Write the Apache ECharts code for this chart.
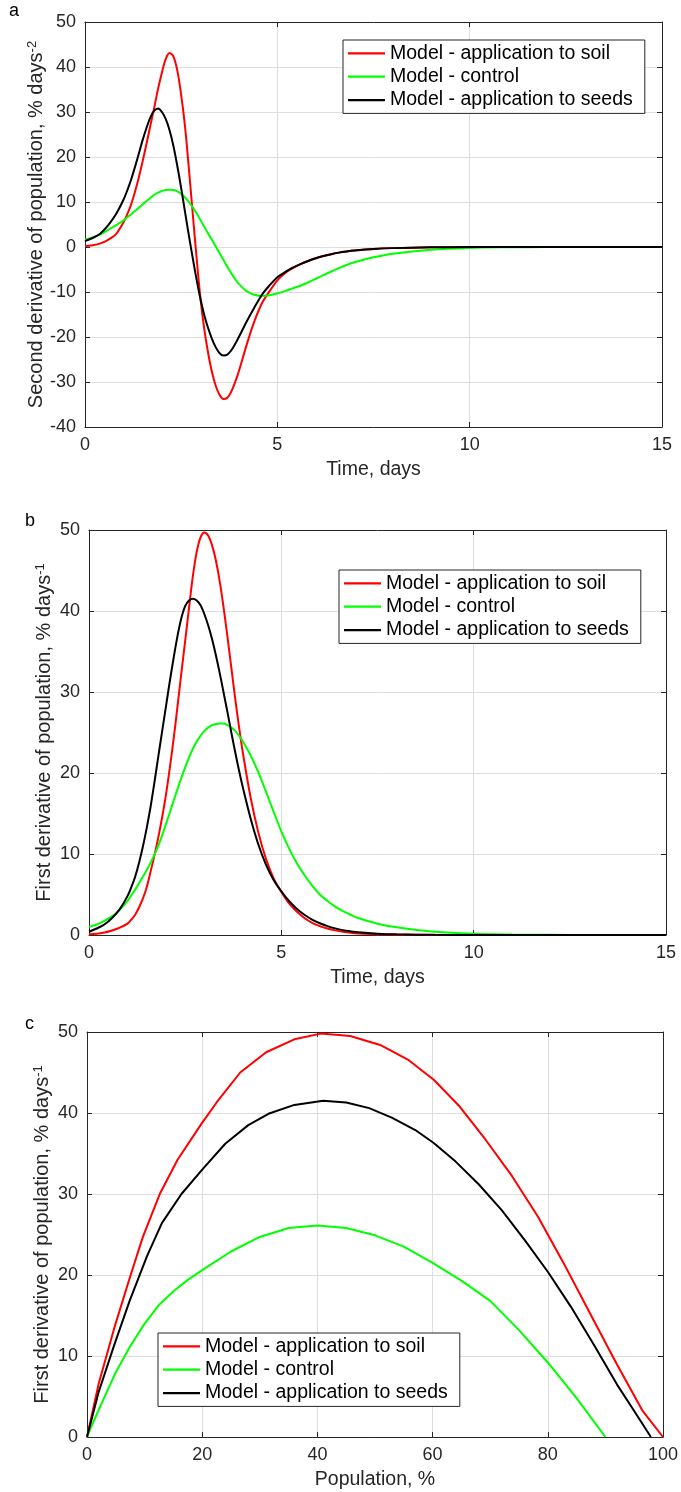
<!DOCTYPE html>
<html><head><meta charset="utf-8">
<script src="https://cdn.jsdelivr.net/npm/echarts@6/dist/echarts.min.js"></script>
<style>html,body{margin:0;padding:0;background:#fff}#c{width:681px;height:1492px}</style>
</head><body><div id="c"></div>
<script>
// ---------- DATA ----------
const seriesNames = ['Model - application to soil', 'Model - control', 'Model - application to seeds'];
const T = [0,0.2,0.4,0.6,0.8,
  1.0,1.1,1.2,1.3,1.4,1.5,1.6,1.7,1.8,1.9,
  2.0,2.1,2.2,2.3,2.4,2.5,2.6,2.7,2.8,2.9,
  3.0,3.1,3.2,3.3,3.4,3.5,3.6,3.7,3.8,3.9,
  4.0,4.2,4.4,4.6,4.8,5.0,
  5.2,5.4,5.6,5.8,6.0,6.2,6.4,6.6,6.8,7.0,
  7.5,8,9,10,11,12,13,14,15];
// panel a: second derivative of population, % days^-2
const secSoil = [0.2,0.4,0.8,1.6,2.8,
  5.5,7.3,9.5,12.3,15.5,19.1,23.0,27.0,31.0,35.2,
  38.8,41.8,43.1,42.3,39.2,33.8,26.8,17.5,7.5,-2.3,
  -11.3,-18.2,-23.5,-27.8,-30.9,-32.9,-33.8,-33.5,-32.2,-30.1,
  -27.6,-21.8,-16.6,-12.5,-9.8,-7.4,
  -5.8,-4.7,-3.8,-3.1,-2.5,-2.0,-1.6,-1.25,-1.0,-0.8,
  -0.45,-0.25,-0.07,-0.02,0,0,0,0,0];
const secControl = [1.6,2.1,2.8,3.8,4.8,
  5.9,6.6,7.3,8.0,8.7,9.5,10.2,10.9,11.6,12.1,
  12.45,12.65,12.7,12.65,12.35,11.8,11.0,10.0,8.8,7.5,
  6.0,4.5,3.0,1.6,0.1,-1.4,-2.9,-4.4,-5.8,-7.1,
  -8.2,-9.8,-10.6,-10.85,-10.7,-10.3,
  -9.8,-9.2,-8.6,-7.85,-7.05,-6.25,-5.45,-4.7,-4.0,-3.4,
  -2.3,-1.5,-0.6,-0.2,-0.07,-0.02,0,0,0];
const secSeeds = [1.3,2.0,3.0,4.8,7.2,
  10.5,12.6,15.0,17.8,20.8,23.8,26.5,28.8,30.3,30.8,
  30.0,28.4,25.9,22.4,18.0,13.1,7.8,2.6,-2.4,-7.2,
  -11.5,-15.1,-18.0,-20.4,-22.3,-23.6,-24.1,-23.9,-23.0,-21.6,
  -20.0,-16.6,-13.5,-10.6,-8.5,-6.7,
  -5.6,-4.6,-3.8,-3.1,-2.5,-2.0,-1.6,-1.25,-1.0,-0.8,
  -0.45,-0.25,-0.08,-0.02,0,0,0,0,0];
// panel b: first derivative of population vs time, % days^-1
const firSoil = [0.1,0.15,0.3,0.55,0.9,
  1.4,1.9,2.5,3.4,4.5,5.9,7.8,9.8,12.0,14.5,
  17.3,20.6,24.2,28.2,32.3,36.3,40.4,44.3,47.3,49.1,
  49.7,49.3,48.1,46.2,43.6,40.4,36.8,33.0,29.2,25.7,
  22.5,17.0,12.7,9.4,7.0,5.3,
  3.9,2.9,2.1,1.5,1.1,0.8,0.57,0.4,0.28,0.2,
  0.08,0.04,0.01,0,0,0,0,0,0];
const firControl = [1.0,1.3,1.75,2.3,3.1,
  4.2,4.9,5.6,6.4,7.2,8.0,8.9,9.9,11.0,12.3,
  13.7,15.1,16.6,18.0,19.4,20.7,21.9,23.0,23.9,24.6,
  25.2,25.6,25.9,26.05,26.1,26.1,25.9,25.6,25.2,24.6,
  23.9,22.2,20.1,17.7,15.2,12.8,
  10.7,8.9,7.4,6.1,5.0,4.2,3.5,2.95,2.5,2.1,
  1.4,0.95,0.4,0.15,0.06,0.02,0,0,0];
const firSeeds = [0.4,0.8,1.3,2.1,3.2,
  4.8,5.9,7.2,8.9,10.9,13.2,15.8,18.8,22.0,25.1,
  28.2,31.3,34.2,36.9,39.1,40.6,41.3,41.5,41.3,40.7,
  39.6,38.2,36.5,34.5,32.3,29.9,27.5,25.0,22.6,20.3,
  18.2,14.4,11.2,8.7,6.8,5.4,
  4.2,3.25,2.5,1.9,1.45,1.1,0.82,0.6,0.45,0.33,
  0.16,0.08,0.02,0,0,0,0,0,0];
// panel c: first derivative vs population
const popSoilP = [0,2,4.75,7.4,9.7,12.7,15.7,19.8,22.5,26.6,31.1,36,40.6,45.7,50.9,55.7,60.2,64.7,69.2,73.8,78.3,82.8,87.3,91.9,96.4,100];
const popSoilV = [0,6.5,13.5,19.6,24.7,30.1,34.2,38.6,41.3,45.0,47.5,49.1,49.8,49.5,48.4,46.6,44.1,40.8,36.7,32.2,27.2,21.4,15.3,9.1,3.3,0];
const popControlP = [0,1,2.5,5,7.5,10,12.5,15,17.5,20,25,30,35,40,45,50,55,60,65,70,75,80,85,90];
const popControlV = [0,1.7,4.1,8.0,11.2,14.0,16.3,18.0,19.4,20.6,22.9,24.7,25.8,26.1,25.8,24.9,23.5,21.5,19.3,16.8,13.2,9.2,4.8,0];
const popSeedsP = [0,2,4.75,7.4,10.4,13,16.4,20,24,28,31.5,36,41,45,49,53,57,60.2,64,68,72,76,80,84,88,92,95,97.9];
const popSeedsV = [0,5.5,11.4,16.8,22.3,26.4,30.0,33.0,36.2,38.5,39.9,41.0,41.5,41.3,40.6,39.4,37.9,36.3,34.0,31.2,28.0,24.3,20.4,16.1,11.4,6.5,3.2,0];
const timeTicks = [0, 15, 5];     // min, max, interval
const popTicks = [0, 100, 20];

// ---------- STYLE / LAYOUT ----------
const FONT = '"Liberation Sans", Arial, Helvetica, sans-serif';
const AX = '#262626';
const GRIDC = '#dedede';
const colors = ['#ff0000', '#00ff00', '#000000'];
const grids = [
  {left: 85, top: 22, width: 577, height: 405},
  {left: 89, top: 530, width: 577, height: 405},
  {left: 87, top: 1032, width: 577, height: 405}
];
const zip = (xs, ys) => xs.map((x, i) => [x, ys[i]]);

function xPair(gi, rng, name) {
  const base = {type: 'value', gridIndex: gi, min: rng[0], max: rng[1], interval: rng[2]};
  return [
    Object.assign({}, base, {
      position: 'bottom',
      axisLine: {show: true, onZero: false, lineStyle: {color: AX, width: 1}},
      axisTick: {show: true, inside: true, length: 5, lineStyle: {color: AX}},
      axisLabel: {color: AX, fontSize: 18, fontFamily: FONT, margin: 9},
      splitLine: {show: true, lineStyle: {color: GRIDC, width: 1}},
      name: name, nameLocation: 'middle', nameGap: 33, nameMoveOverlap: false,
      nameTextStyle: {color: AX, fontSize: 19.5, fontFamily: FONT, lineHeight: 20}
    }),
    Object.assign({}, base, {
      position: 'top',
      axisLine: {show: true, onZero: false, lineStyle: {color: AX, width: 1}},
      axisTick: {show: true, inside: true, length: 5, lineStyle: {color: AX}},
      axisLabel: {show: false}, splitLine: {show: false}
    })
  ];
}
function yPair(gi, min, max, name, gap) {
  const base = {type: 'value', gridIndex: gi, min: min, max: max, interval: 10};
  return [
    Object.assign({}, base, {
      position: 'left',
      axisLine: {show: true, onZero: false, lineStyle: {color: AX, width: 1}},
      axisTick: {show: true, inside: true, length: 5, lineStyle: {color: AX}},
      axisLabel: {color: AX, fontSize: 18, fontFamily: FONT, margin: 9},
      splitLine: {show: true, lineStyle: {color: GRIDC, width: 1}},
      name: name, nameLocation: 'middle', nameGap: gap, nameRotate: 90, nameMoveOverlap: false,
      nameTextStyle: {color: AX, fontSize: 20, fontFamily: FONT, lineHeight: 21,
        rich: {sup: {fontSize: 13, fontFamily: FONT, color: AX, lineHeight: 12, verticalAlign: 'top'}}}
    }),
    Object.assign({}, base, {
      position: 'right',
      axisLine: {show: true, onZero: false, lineStyle: {color: AX, width: 1}},
      axisTick: {show: true, inside: true, length: 5, lineStyle: {color: AX}},
      axisLabel: {show: false}, splitLine: {show: false}
    })
  ];
}
function legend(left, top) {
  return {
    data: seriesNames, orient: 'vertical', left: left, top: top,
    icon: 'rect', itemWidth: 37, itemHeight: 2.2, itemGap: 0,
    padding: [1.6, 12, 1.6, 5],
    backgroundColor: '#fff', borderColor: AX, borderWidth: 1, borderRadius: 0,
    selectedMode: false,
    textStyle: {color: '#000', fontSize: 19.5, fontFamily: FONT, lineHeight: 23.4}
  };
}
function line(i, xi, yi, data, smooth) {
  return {type: 'line', name: seriesNames[i], xAxisIndex: xi, yAxisIndex: yi, data: data,
    showSymbol: false, symbol: 'none', smooth: smooth, color: colors[i],
    lineStyle: {color: colors[i], width: 2}, itemStyle: {color: colors[i]}};
}

const option = {
  animation: false,
  backgroundColor: '#fff',
  grid: grids,
  xAxis: [].concat(xPair(0, timeTicks, 'Time, days'), xPair(1, timeTicks, 'Time, days'), xPair(2, popTicks, 'Population, %')),
  yAxis: [].concat(
    yPair(0, -40, 50, 'Second derivative of population, % days{sup|-2}', 38),
    yPair(1, 0, 50, 'First derivative of population, % days{sup|-1}', 34),
    yPair(2, 0, 50, 'First derivative of population, % days{sup|-1}', 34)),
  legend: [legend(343, 40), legend(339, 570), legend(158, 1333)],
  graphic: [
    {type: 'text', left: 9, top: 2, style: {text: 'a', fontSize: 18, fontFamily: FONT, fill: '#000'}},
    {type: 'text', left: 25, top: 512, style: {text: 'b', fontSize: 18, fontFamily: FONT, fill: '#000'}},
    {type: 'text', left: 25, top: 1015, style: {text: 'c', fontSize: 18, fontFamily: FONT, fill: '#000'}}
  ],
  series: [
    line(0, 0, 0, zip(T, secSoil), 0.3),
    line(1, 0, 0, zip(T, secControl), 0.3),
    line(2, 0, 0, zip(T, secSeeds), 0.3),
    line(0, 2, 2, zip(T, firSoil), 0.3),
    line(1, 2, 2, zip(T, firControl), 0.3),
    line(2, 2, 2, zip(T, firSeeds), 0.3),
    line(0, 4, 4, zip(popSoilP, popSoilV), false),
    line(1, 4, 4, zip(popControlP, popControlV), false),
    line(2, 4, 4, zip(popSeedsP, popSeedsV), false)
  ]
};
const chart = echarts.init(document.getElementById('c'), null, {renderer: 'canvas'});
chart.setOption(option);
</script></body></html>
